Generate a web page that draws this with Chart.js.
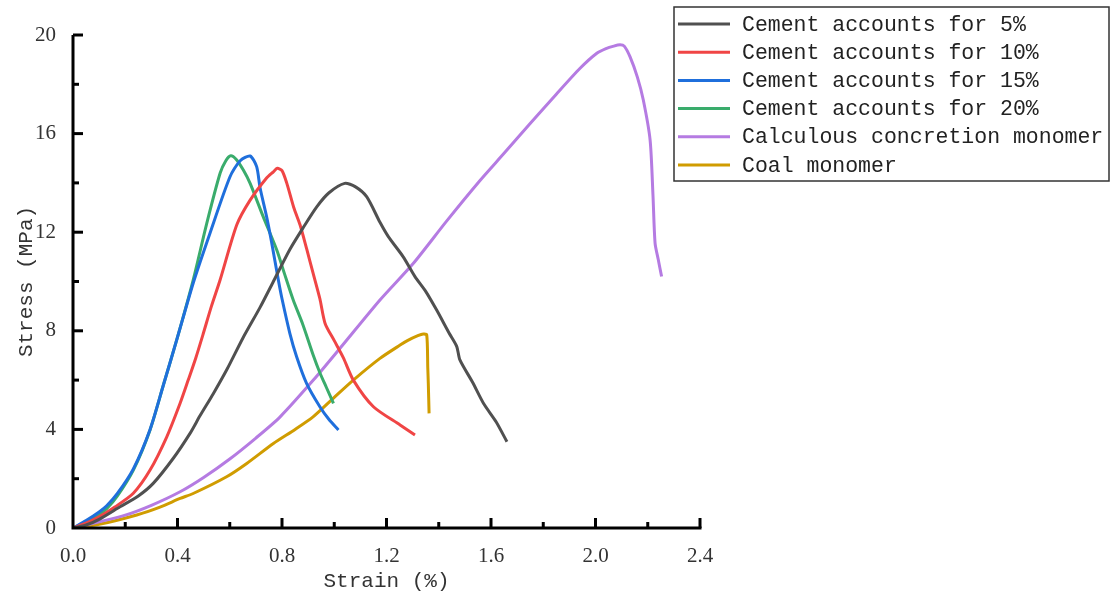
<!DOCTYPE html>
<html>
<head>
<meta charset="utf-8">
<script src="https://cdn.jsdelivr.net/npm/chart.js@4/dist/chart.umd.min.js"></script>
<style>
  html, body { margin: 0; padding: 0; background: #fff; }
  #wrap { width: 1110px; height: 597px; position: relative; }
</style>
</head>
<body>
<div id="wrap"><canvas id="stressChart"></canvas></div>
<script>
// series names
const seriesNames = [
  'Cement accounts for 5%',
  'Cement accounts for 10%',
  'Cement accounts for 15%',
  'Cement accounts for 20%',
  'Calculous concretion monomer',
  'Coal monomer'
];
const seriesColors = ['#505050', '#f04545', '#1f6fdc', '#3aac6c', '#b57be2', '#d09c00'];

// strain (%) / stress (MPa)
const strain5 = [0, 0.05, 0.1, 0.18, 0.25, 0.307, 0.384, 0.448, 0.486, 0.537, 0.59, 0.65, 0.716, 0.767, 0.83, 0.882, 0.933, 0.98, 1.04, 1.08, 1.124, 1.175, 1.207, 1.264, 1.309, 1.35, 1.392, 1.44, 1.469, 1.481, 1.53, 1.571, 1.62, 1.661];
const stress5 = [0, 0.12, 0.35, 0.86, 1.3, 1.81, 2.83, 3.84, 4.55, 5.45, 6.45, 7.7, 8.95, 10.0, 11.3, 12.2, 13.03, 13.6, 13.98, 13.85, 13.44, 12.4, 11.82, 11.0, 10.2, 9.6, 8.84, 7.9, 7.36, 6.82, 5.9, 5.06, 4.3, 3.5];

const strain10 = [0, 0.05, 0.1, 0.16, 0.231, 0.295, 0.359, 0.41, 0.441, 0.47, 0.499, 0.53, 0.563, 0.627, 0.678, 0.741, 0.767, 0.782, 0.8, 0.818, 0.845, 0.869, 0.895, 0.92, 0.945, 0.965, 1.0, 1.035, 1.073, 1.15, 1.252, 1.309];
const stress10 = [0, 0.2, 0.45, 0.85, 1.41, 2.35, 3.7, 5.06, 6.0, 6.9, 7.9, 9.0, 10.06, 12.3, 13.3, 14.2, 14.45, 14.59, 14.5, 14.0, 13.0, 12.3, 11.3, 10.3, 9.3, 8.3, 7.6, 6.9, 6.0, 4.92, 4.18, 3.77];

const strain15 = [0, 0.05, 0.1, 0.129, 0.17, 0.231, 0.295, 0.346, 0.397, 0.46, 0.524, 0.601, 0.64, 0.678, 0.703, 0.716, 0.741, 0.76, 0.786, 0.8, 0.83, 0.856, 0.894, 0.945, 0.98, 1.016];
const stress15 = [0, 0.3, 0.65, 0.9, 1.4, 2.4, 4.0, 5.8, 7.63, 9.93, 11.95, 14.25, 14.9, 15.09, 14.66, 13.8, 12.63, 11.6, 10.06, 9.3, 7.9, 6.95, 5.87, 4.92, 4.4, 3.98];

const strain20 = [0, 0.05, 0.1, 0.129, 0.17, 0.231, 0.295, 0.346, 0.397, 0.46, 0.512, 0.563, 0.585, 0.604, 0.625, 0.652, 0.678, 0.728, 0.78, 0.81, 0.843, 0.88, 0.92, 0.945, 0.97, 0.997];
const stress20 = [0, 0.25, 0.55, 0.78, 1.3, 2.35, 3.98, 5.8, 7.63, 10.06, 12.36, 14.39, 14.9, 15.1, 14.95, 14.52, 13.98, 12.63, 11.28, 10.3, 9.25, 8.25, 7.0, 6.3, 5.7, 5.06];

const strainCalc = [0, 0.1, 0.2, 0.3, 0.41, 0.5, 0.6, 0.7, 0.792, 0.92, 1.022, 1.175, 1.303, 1.43, 1.558, 1.65, 1.749, 1.85, 1.941, 2.005, 2.04, 2.07, 2.094, 2.11, 2.132, 2.16, 2.183, 2.209, 2.22, 2.228, 2.24, 2.253];
const stressCalc = [0, 0.25, 0.52, 0.92, 1.47, 2.05, 2.8, 3.65, 4.5, 6.0, 7.29, 9.25, 10.74, 12.45, 14.1, 15.2, 16.4, 17.6, 18.65, 19.26, 19.45, 19.55, 19.6, 19.55, 19.12, 18.3, 17.36, 15.74, 13.5, 11.56, 10.9, 10.2];

const strainCoal = [0, 0.1, 0.244, 0.333, 0.41, 0.46, 0.588, 0.665, 0.767, 0.85, 0.92, 1.0, 1.073, 1.175, 1.252, 1.28, 1.32, 1.341, 1.354, 1.358, 1.36, 1.363];
const stressCoal = [0, 0.15, 0.53, 0.85, 1.2, 1.4, 2.08, 2.62, 3.43, 4.0, 4.52, 5.3, 6.0, 6.88, 7.42, 7.6, 7.8, 7.87, 7.83, 6.5, 5.87, 4.65];

// tick labels
const xTickLabels = ['0.0', '0.4', '0.8', '1.2', '1.6', '2.0', '2.4'];
const yTickLabels = ['0', '4', '8', '12', '16', '20'];

const strains = [strain5, strain10, strain15, strain20, strainCalc, strainCoal];
const stresses = [stress5, stress10, stress15, stress20, stressCalc, stressCoal];

const datasets = seriesNames.map((name, k) => ({
  label: name,
  data: strains[k].map((x, i) => ({ x: x, y: stresses[k][i] })),
  borderColor: seriesColors[k],
  backgroundColor: seriesColors[k],
  borderWidth: 3,
  pointRadius: 0,
  tension: 0.25,
  fill: false,
}));

// axes with inward ticks + boxed legend
const axesAndLegend = {
  id: 'axesAndLegend',
  afterDraw(chart) {
    const ctx = chart.ctx;
    const a = chart.chartArea;
    const xs = chart.scales.x, ys = chart.scales.y;
    ctx.save();
    ctx.strokeStyle = '#000';
    ctx.lineWidth = 3;
    ctx.lineCap = 'butt';
    ctx.beginPath();
    ctx.moveTo(a.left, a.top);
    ctx.lineTo(a.left, a.bottom);
    ctx.lineTo(a.right + 1.5, a.bottom);
    ctx.stroke();
    // x ticks (major 0.4, minor 0.2)
    for (let v = 0.2; v <= 2.41; v += 0.2) {
      const px = xs.getPixelForValue(v);
      const major = Math.round(v / 0.2) % 2 === 0;
      ctx.beginPath();
      ctx.moveTo(px, a.bottom);
      ctx.lineTo(px, a.bottom - (major ? 10 : 6));
      ctx.stroke();
    }
    // y ticks (major 4, minor 2)
    for (let v = 2; v <= 20; v += 2) {
      const py = ys.getPixelForValue(v);
      const major = v % 4 === 0;
      ctx.beginPath();
      ctx.moveTo(a.left, py);
      ctx.lineTo(a.left + (major ? 10 : 6), py);
      ctx.stroke();
    }
    // legend box
    const bx = 674, by = 7, bw = 435, bh = 174;
    ctx.lineWidth = 1.5;
    ctx.strokeStyle = '#333';
    ctx.strokeRect(bx, by, bw, bh);
    ctx.font = '21.5px "Liberation Mono", monospace';
    ctx.textBaseline = 'middle';
    ctx.textAlign = 'left';
    chart.data.datasets.forEach((ds, i) => {
      const yy = 24 + i * 28.2;
      ctx.strokeStyle = ds.borderColor;
      ctx.lineWidth = 3;
      ctx.beginPath();
      ctx.moveTo(678, yy);
      ctx.lineTo(730, yy);
      ctx.stroke();
      ctx.fillStyle = '#222';
      ctx.fillText(ds.label, 742, yy + 1);
    });
    ctx.restore();
  }
};

const tickFont = { family: '"Liberation Serif", serif', size: 21 };
const titleFont = { family: '"Liberation Mono", monospace', size: 21 };

new Chart(document.getElementById('stressChart'), {
  type: 'line',
  data: { datasets: datasets },
  options: {
    responsive: true,
    maintainAspectRatio: false,
    animation: false,
    layout: { padding: { left: 0, top: 35, right: 410, bottom: 0 } },
    plugins: {
      legend: { display: false },
      tooltip: { enabled: false },
    },
    scales: {
      x: {
        type: 'linear',
        min: 0,
        max: 2.4,
        grid: { display: false },
        border: { display: false },
        ticks: {
          stepSize: 0.4,
          color: '#333',
          font: tickFont,
          padding: 8,
          maxRotation: 0,
          callback: (v, i) => xTickLabels[i],
        },
        title: { display: true, text: 'Strain (%)', color: '#333', font: titleFont, padding: { bottom: 3 } },
        afterFit: (s) => { s.height = 69; },
      },
      y: {
        type: 'linear',
        min: 0,
        max: 20,
        grid: { display: false },
        border: { display: false },
        ticks: {
          stepSize: 4,
          color: '#333',
          font: tickFont,
          padding: 9,
          callback: (v, i) => yTickLabels[i],
        },
        title: { display: true, text: 'Stress (MPa)', color: '#333', font: titleFont, padding: { top: 14 } },
        afterFit: (s) => { s.width = 73; },
      },
    },
  },
  plugins: [axesAndLegend],
});
</script>
</body>
</html>
